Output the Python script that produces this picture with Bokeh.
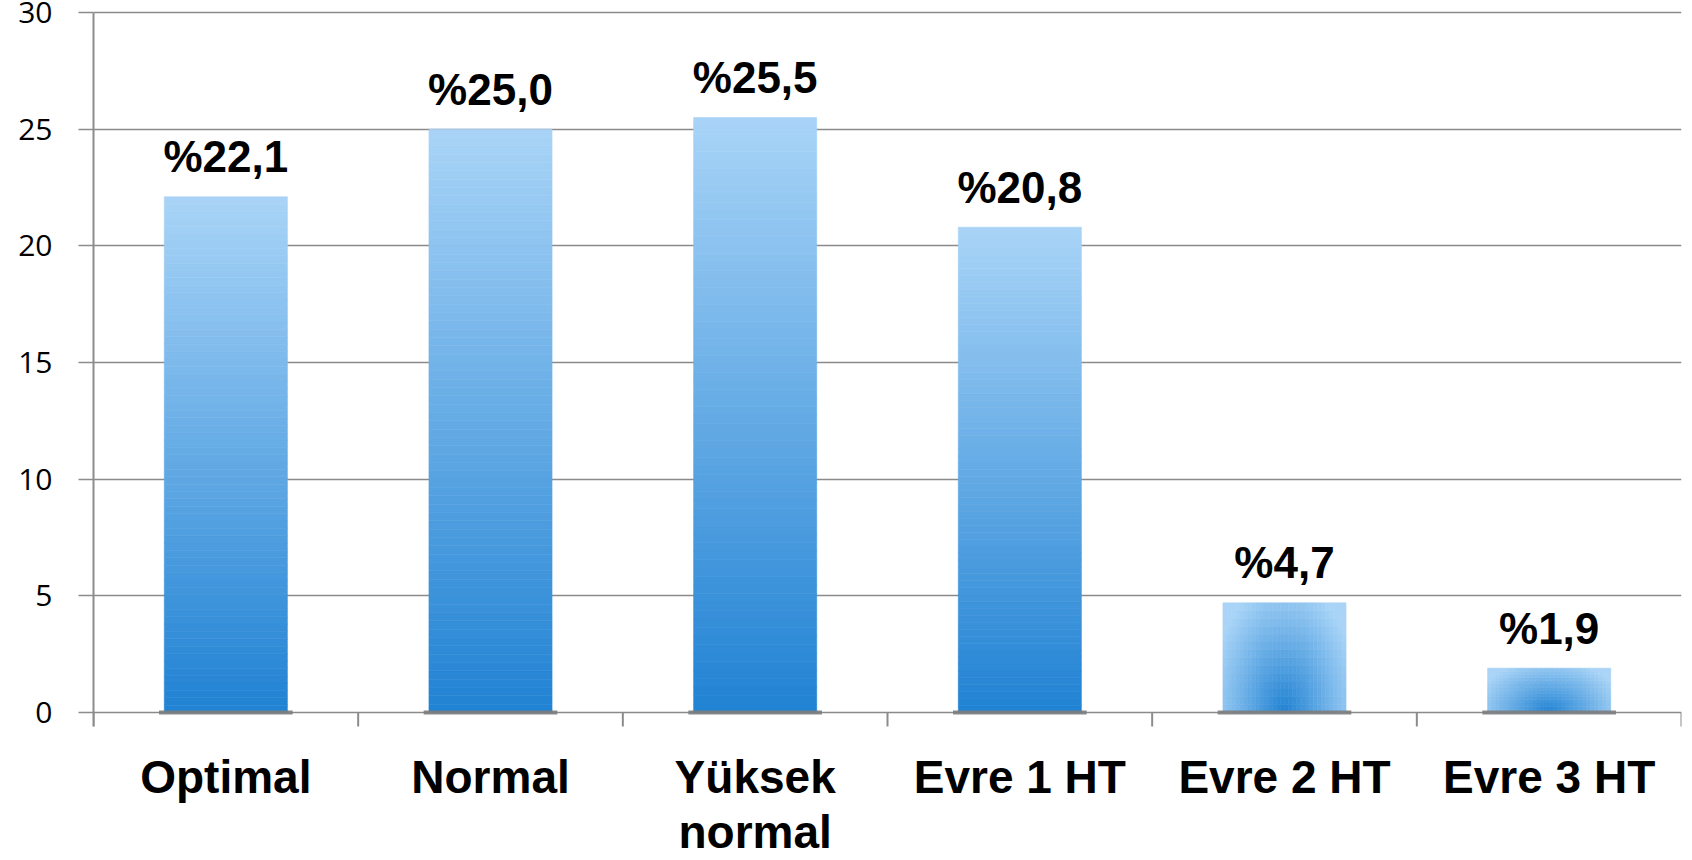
from bokeh.plotting import figure
from bokeh.models import Range1d, FixedTicker, ColumnDataSource
from bokeh.core.properties import value
from bokeh.embed import file_html
from bokeh.resources import INLINE
import math

# ---- data ----
categories = ["Optimal", "Normal", "Yüksek\nnormal", "Evre 1 HT", "Evre 2 HT", "Evre 3 HT"]
percentages = [22.1, 25.0, 25.5, 20.8, 4.7, 1.9]
y_ticks = [0, 5, 10, 15, 20, 25, 30]

# ---- style / layout ----
W, H = 1692, 860
TOP_PX, ZERO_PX = 12, 712            # screen rows of the top tick and of zero
BAR_W = 0.465
LIGHT = (0xA9, 0xD4, 0xF7)
DARK = (0x20, 0x82, 0xD3)
AXIS_COL = "#8c8c8c"

y_max = y_ticks[-1]
pxu = (ZERO_PX - TOP_PX) / y_max     # pixels per unit
y_end = y_max + TOP_PX / pxu
y_start = -(H - ZERO_PX) / pxu


def mix(t):
    r = [int(round(DARK[i] + (LIGHT[i] - DARK[i]) * t)) for i in range(3)]
    return "#%02x%02x%02x" % tuple(r)


n = len(categories)
centers = [i + 0.5 for i in range(n)]

p = figure(width=W, height=H, output_backend="svg", toolbar_location=None,
           x_range=Range1d(0, n), y_range=Range1d(y_start, y_end),
           min_border_left=93, min_border_right=11, min_border_top=0,
           min_border_bottom=0)
p.outline_line_color = None
p.background_fill_color = "white"
p.border_fill_color = "white"

# gradient bars
L, R, B, T, C = [], [], [], [], []
for xc, v in zip(centers, percentages):
    if v >= 10:
        N = 70
        for k in range(N):
            L.append(xc - BAR_W / 2); R.append(xc + BAR_W / 2)
            B.append(v * k / N); T.append(v * (k + 1) / N)
            C.append(mix((k + 0.5) / N))
    else:
        nx, ny = 30, 14
        for i in range(nx):
            for j in range(ny):
                x0 = xc - BAR_W / 2 + BAR_W * i / nx
                x1 = xc - BAR_W / 2 + BAR_W * (i + 1) / nx
                y0 = v * j / ny
                y1 = v * (j + 1) / ny
                dx = ((x0 + x1) / 2 - xc) / (BAR_W / 2)
                dy = ((y0 + y1) / 2) / v
                d = math.sqrt(dx * dx * 0.9 + dy * dy * 0.9)
                L.append(x0); R.append(x1); B.append(y0); T.append(y1)
                C.append(mix(min(1.0, d / 1.15)))

p.quad(left=L, right=R, bottom=B, top=T, fill_color=C, line_color=C, line_width=0.6)

# grid (horizontal lines incl. the zero baseline)
p.xgrid.visible = False
p.ygrid.ticker = FixedTicker(ticks=y_ticks)
p.ygrid.grid_line_color = "#8a8a8a"
p.ygrid.grid_line_width = 1.6

# shadow at the base of each bar
p.segment(x0=[c - BAR_W / 2 - 0.02 for c in centers], x1=[c + BAR_W / 2 + 0.02 for c in centers],
          y0=[0] * n, y1=[0] * n, line_color="#7d7d7d", line_width=4, line_alpha=0.9)

# category boundary ticks below the baseline
bounds_x = list(range(n + 1))
p.ray(x=bounds_x, y=[0] * (n + 1), length=14, length_units="screen",
      angle=-90, angle_units="deg", line_color=AXIS_COL, line_width=2)

# value labels
src = ColumnDataSource(dict(x=centers, y=percentages,
                            txt=["%" + ("%.1f" % v).replace(".", ",") for v in percentages]))
p.text(x="x", y="y", text="txt", source=src, text_align="center", text_baseline="alphabetic",
       y_offset=-40, text_font=value("Liberation Sans"), text_font_style="bold",
       text_font_size="44px", text_color="black")

# category labels
cat_src = ColumnDataSource(dict(x=centers, y=[0] * n, txt=categories))
p.text(x="x", y="y", text="txt", source=cat_src, text_align="center", text_baseline="top",
       y_offset=38, text_font=value("Liberation Sans"), text_font_style="bold",
       text_font_size="46px", text_color="black", text_line_height=1.06)

# y axis
ya = p.yaxis[0]
ya.ticker = FixedTicker(ticks=y_ticks)
ya.bounds = (-14 / pxu, y_max)
ya.axis_line_color = AXIS_COL
ya.axis_line_width = 2
ya.major_tick_line_color = AXIS_COL
ya.major_tick_line_width = 1.6
ya.major_tick_out = 15
ya.major_tick_in = 0
ya.minor_tick_line_color = None
ya.major_label_standoff = 26
ya.major_label_text_font = "Open Sans"
ya.major_label_text_font_size = "30px"
ya.major_label_text_color = "#000000"

p.xaxis.visible = False

open("out.html", "w").write(file_html(p, INLINE))
